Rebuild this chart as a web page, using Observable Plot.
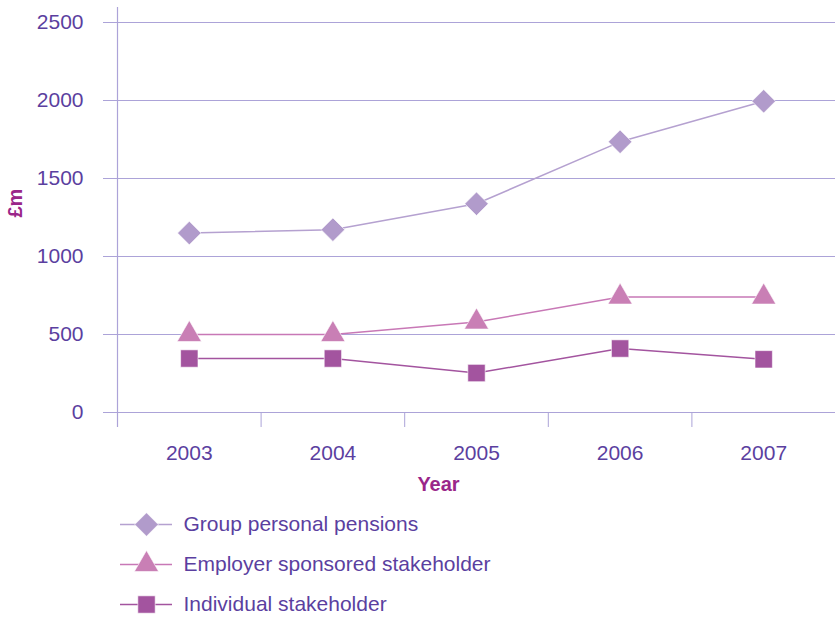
<!DOCTYPE html>
<html><head><meta charset="utf-8">
<script src="https://cdn.jsdelivr.net/npm/d3@7"></script>
<script src="https://cdn.jsdelivr.net/npm/@observablehq/plot@0.6"></script>
<style>
body{margin:0;background:#fff;}
#chart{width:835px;}
#chart svg{display:block;}
</style>
</head><body><div id="chart"></div>
<script>
const years = [2003, 2004, 2005, 2006, 2007];
const yearBoundaries = [2002.5, 2003.5, 2004.5, 2005.5, 2006.5, 2007.5];
const yTicks = [0, 500, 1000, 1500, 2000, 2500];
const seriesNames = ["Group personal pensions", "Employer sponsored stakeholder", "Individual stakeholder"];
const groupPersonal = [1150, 1172, 1338, 1735, 1995];
const employerSponsored = [500, 500, 580, 740, 740];
const individualStakeholder = [346, 346, 253, 410, 341];
const seriesValues = [groupPersonal, employerSponsored, individualStakeholder];

const symbols = ["diamond2", "triangle", "square"];
const symbolR = [10.6, 9, 9.8];
const markerColors = ["#b19bcb", "#c97fb5", "#a3549f"];
const lineColors = ["#b5a1d0", "#c878b6", "#a3549f"];
const textColor = "#5b3f9f";
const labelColor = "#9a2689";
const gridColor = "#aca3d8";
const font = "'Liberation Sans', Arial, sans-serif";

const rows = [];
seriesNames.forEach((name, i) => years.forEach((yr, j) => rows.push({series: name, year: yr, value: seriesValues[i][j]})));

const seriesMarks = [];
seriesNames.forEach((name, i) => {
  const data = rows.filter(d => d.series === name);
  seriesMarks.push(Plot.line(data, {x: "year", y: "value", stroke: lineColors[i], strokeWidth: 1.5}));
  seriesMarks.push(Plot.dot(data, {x: "year", y: "value", symbol: symbols[i], r: symbolR[i], fill: markerColors[i], stroke: "#fff", strokeWidth: 0.6}));
});

const main = Plot.plot({
  width: 835, height: 500,
  marginLeft: 117, marginRight: 0, marginTop: 22, marginBottom: 88,
  style: {fontFamily: font, fontSize: "21px", color: textColor, background: "#fff", overflow: "visible"},
  x: {domain: [2002.5, 2007.5], label: null},
  y: {domain: [0, 2500], label: null},
  marks: [
    Plot.ruleY(yTicks, {stroke: gridColor, strokeWidth: 1, insetLeft: -14}),
    Plot.ruleX([yearBoundaries[0]], {stroke: gridColor, strokeWidth: 1.2, insetTop: -15, insetBottom: -15}),
    Plot.axisX({ticks: yearBoundaries, tickSize: 15, tickFormat: () => "", stroke: gridColor, strokeWidth: 1, label: null}),
    Plot.axisX({ticks: years, tickSize: 0, tickPadding: 33, tickFormat: d => String(d), fill: textColor, fontSize: 21, label: null}),
    Plot.axisY({ticks: yTicks, tickSize: 0, tickPadding: 34, tickFormat: d => String(d), fill: textColor, fontSize: 21, label: null}),
    Plot.text(["Year"], {frameAnchor: "bottom", dx: -38, dy: 78, text: d => d, fill: labelColor, fontWeight: "bold", fontSize: 20}),
    Plot.text(["£m"], {frameAnchor: "left", dx: -102, rotate: -90, text: d => d, fill: labelColor, fontWeight: "bold", fontSize: 20}),
    ...seriesMarks
  ]
});

const legendMarks = [];
seriesNames.forEach((name, i) => {
  legendMarks.push(Plot.ruleY([name], {y: d => d, x1: 120, x2: 172, stroke: lineColors[i], strokeWidth: 1.5}));
  legendMarks.push(Plot.dot([name], {y: d => d, x: 146, symbol: symbols[i], r: symbolR[i], fill: markerColors[i], stroke: "#fff", strokeWidth: 0.6}));
  legendMarks.push(Plot.text([name], {y: d => d, x: 183, text: d => d, textAnchor: "start", fill: textColor, fontSize: 21}));
});

const legend = Plot.plot({
  width: 835, height: 119,
  marginLeft: 0, marginRight: 0, marginTop: 23, marginBottom: 15,
  style: {fontFamily: font, fontSize: "21px", color: textColor, background: "#fff", overflow: "visible"},
  x: {domain: [0, 835], axis: null},
  y: {type: "point", domain: seriesNames, padding: 0, axis: null},
  marks: legendMarks
});

const el = document.getElementById("chart");
el.appendChild(main);
el.appendChild(legend);
</script>
</body></html>
